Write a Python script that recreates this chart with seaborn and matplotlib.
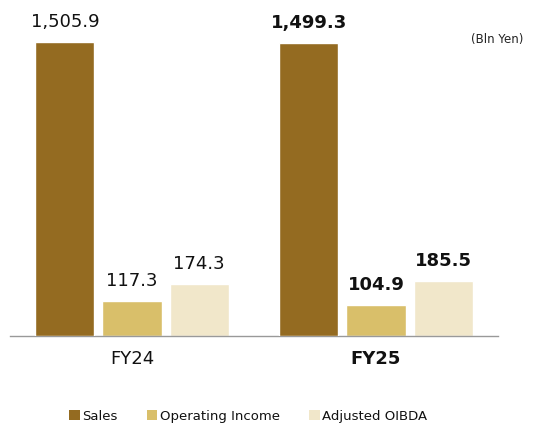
import numpy as np
import pandas as pd
import matplotlib
matplotlib.use("Agg")
import matplotlib.pyplot as plt
from matplotlib.patches import Patch
import seaborn as sns

# Values (Bln Yen)
years = ["FY24", "FY25"]
metrics = ["Sales", "Operating Income", "Adjusted OIBDA"]
sales = [1505.9, 1499.3]
operating_income = [117.3, 104.9]
adjusted_oibda = [174.3, 185.5]

colors = ["#946B21", "#D9BF6A", "#F1E7CA"]

records = []
for i, y in enumerate(years):
    records.append({"Year": y, "Metric": "Sales", "Value": sales[i]})
    records.append({"Year": y, "Metric": "Operating Income", "Value": operating_income[i]})
    records.append({"Year": y, "Metric": "Adjusted OIBDA", "Value": adjusted_oibda[i]})
df = pd.DataFrame(records)

# Sales bars use their own (compressed) scale, like the original chart
df_small = df.copy()
df_small.loc[df_small["Metric"] == "Sales", "Value"] = np.nan
df_sales = df.copy()
df_sales.loc[df_sales["Metric"] != "Sales", "Value"] = np.nan

sns.set_theme(style="white")
plt.rcParams["font.family"] = ["DejaVu Sans"]

fig = plt.figure(figsize=(5.35, 4.25), dpi=100)
ax = fig.add_axes([10 / 535, 89 / 425, 488 / 535, 316 / 425])
ax2 = ax.twinx()

palette = dict(zip(metrics, colors))
sns.barplot(data=df_small, x="Year", y="Value", hue="Metric", hue_order=metrics,
            order=years, palette=palette, width=0.825, gap=0.12, ax=ax,
            errorbar=None, legend=False, saturation=1)
sns.barplot(data=df_sales, x="Year", y="Value", hue="Metric", hue_order=metrics,
            order=years, palette=palette, width=0.825, gap=0.12, ax=ax2,
            errorbar=None, legend=False, saturation=1)

ax.set_ylim(0, 316 / 0.296)
ax2.set_ylim(0, 316 / 0.1952)
ax.set_xlim(-0.5, 1.5)

for a in (ax, ax2):
    a.set_yticks([])
    a.set_ylabel("")
    a.set_xlabel("")
    for side in ["top", "left", "right", "bottom"]:
        a.spines[side].set_visible(False)
ax.spines["bottom"].set_visible(True)
ax.spines["bottom"].set_color("#999999")
ax.spines["bottom"].set_linewidth(1.0)

ax2.tick_params(axis="x", bottom=False, labelbottom=False)
ax.set_xticks(range(len(years)))
ax.set_xticklabels(years, fontsize=13, color="#111111")
ax.tick_params(axis="x", length=0, pad=10, labelbottom=True)
ax.get_xticklabels()[1].set_fontweight("bold")

# Value labels
for a in (ax, ax2):
    for bar in a.patches:
        h = bar.get_height()
        if not np.isfinite(h) or h <= 0:
            continue
        cx = bar.get_x() + bar.get_width() / 2
        bold = cx > 0.5
        a.annotate(f"{h:,.1f}", xy=(cx, h), xytext=(0, 8), textcoords="offset points",
                   ha="center", va="bottom", fontsize=13,
                   fontweight="bold" if bold else "normal", color="#111111")

fig.text(523 / 535, 1 - 39 / 425, "(Bln Yen)", ha="right", va="center", fontsize=8.5, color="#222222")

handles = [Patch(facecolor=c, edgecolor="none") for c in colors]
fig.legend(handles, metrics, loc="center", bbox_to_anchor=(0.464, 0.02), ncol=3,
           frameon=False, fontsize=9.5, handlelength=0.8, handleheight=0.8,
           handletextpad=0.2, columnspacing=2.2, labelcolor="#111111")

fig.savefig("out.png", dpi=100)
